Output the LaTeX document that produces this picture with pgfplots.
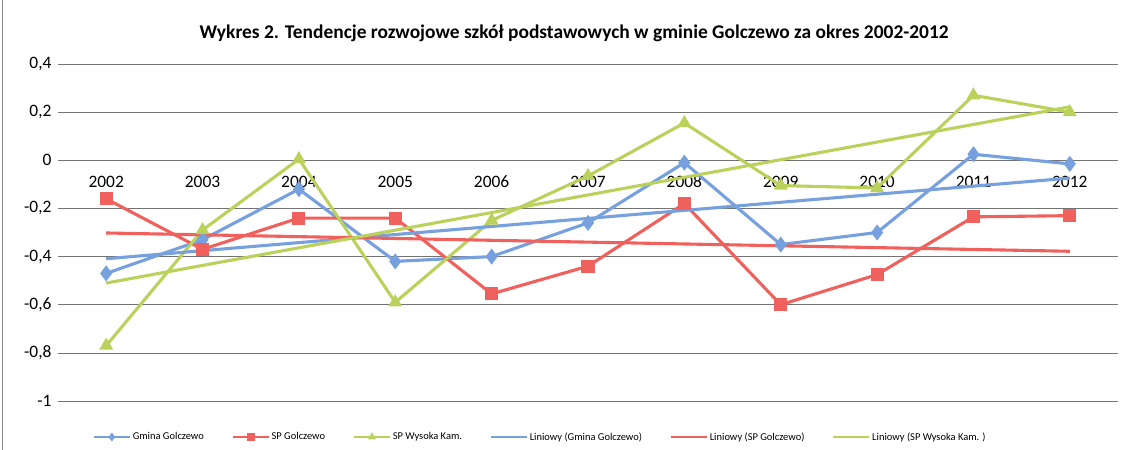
\documentclass[border=0pt]{standalone}
\usepackage{fontspec}
\setmainfont{Carlito}
\usepackage{pgfplots}
\pgfplotsset{compat=1.18}
\definecolor{cblue}{RGB}{118,160,222}
\definecolor{cred}{RGB}{240,96,92}
\definecolor{cgreen}{RGB}{186,210,92}
\begin{document}
\begin{tikzpicture}
\path[use as bounding box] (-58bp,-49bp) rectangle (1066bp,401bp);
\draw[black!45, line width=0.8bp] (-56bp,-49bp) -- (-56bp,401bp);
\begin{axis}[
  scale only axis, width=1060bp, height=337bp,
  xmin=-0.5, xmax=10.5, ymin=-1, ymax=0.4,
  axis x line*=middle, axis y line*=left,
  axis line style={draw=none},
  hide obscured y ticks=false, hide obscured x ticks=false,
  xtick={0,1,2,3,4,5,6,7,8,9,10},
  xticklabels={2002,2003,2004,2005,2006,2007,2008,2009,2010,2011,2012},
  ytick={-1,-0.8,-0.6,-0.4,-0.2,0,0.2,0.4},
  ymajorgrids, xmajorgrids=false,
  major grid style={black!55, line width=0.6bp},
  major tick length=0,
  tick label style={font=\fontsize{17.5}{20}\selectfont},
  xticklabel style={yshift=-12bp},
  yticklabel style={xshift=-3bp},
  /pgf/number format/.cd, use comma, fixed, assume math mode=true,
  /pgfplots/.cd,
  clip=false,
  legend columns=6,
  legend style={draw=none, fill=none, font=\fontsize{10.5}{12}\selectfont,
    at={(0.455,-0.107)}, anchor=center,
    /tikz/every even column/.append style={column sep=26bp}},
  legend image code/.code={
    \draw[mark repeat=2, mark phase=2, #1, line width=1.8bp, mark size=3bp]
      plot coordinates {(0bp,0bp) (18bp,0bp) (36bp,0bp)};
  },
]
\addplot[cblue, line width=3.1bp, mark=diamond*, mark size=5.5bp, mark options={solid}] coordinates {
 (0,-0.47) (1,-0.33) (2,-0.12) (3,-0.42) (4,-0.40) (5,-0.26) (6,-0.01) (7,-0.35) (8,-0.30) (9,0.025) (10,-0.015)};
\addlegendentry{Gmina Golczewo}
\addplot[cred, line width=3.1bp, mark=square*, mark size=5bp] coordinates {
 (0,-0.16) (1,-0.37) (2,-0.24) (3,-0.24) (4,-0.555) (5,-0.44) (6,-0.18) (7,-0.60) (8,-0.475) (9,-0.235) (10,-0.23)};
\addlegendentry{SP Golczewo}
\addplot[cgreen, line width=3.1bp, mark=triangle*, mark size=5bp] coordinates {
 (0,-0.77) (1,-0.29) (2,0.005) (3,-0.59) (4,-0.25) (5,-0.065) (6,0.155) (7,-0.105) (8,-0.115) (9,0.27) (10,0.20)};
\addlegendentry{SP Wysoka Kam.}
\addplot[cblue, line width=3.1bp] coordinates {(0,-0.409) (10,-0.074)};
\addlegendentry{Liniowy (Gmina Golczewo)}
\addplot[cred, line width=3.1bp] coordinates {(0,-0.302) (10,-0.378)};
\addlegendentry{Liniowy (SP Golczewo)}
\addplot[cgreen, line width=3.1bp] coordinates {(0,-0.51) (10,0.222)};
\addlegendentry{Liniowy (SP Wysoka Kam. )}
\node[font=\bfseries\fontsize{19.5}{22}\selectfont] at (axis description cs:0.487,1.09)
  {Wykres 2. Tendencje rozwojowe szkół podstawowych w gminie Golczewo za okres 2002-2012};
\end{axis}
\end{tikzpicture}
\end{document}
